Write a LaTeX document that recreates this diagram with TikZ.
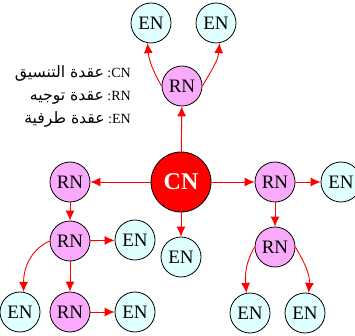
\documentclass[tikz,border=0pt]{standalone}
\usepackage{fontspec}
\setmainfont{Liberation Serif}
\newfontfamily\arabicfont[Script=Arabic,Scale=1.12]{DejaVu Sans}
\TeXXeTstate=1
\usetikzlibrary{arrows.meta}

\definecolor{encol}{RGB}{224,255,255}
\definecolor{rncol}{RGB}{250,170,250}
\definecolor{cncol}{RGB}{255,0,0}

\tikzset{
  netnode/.style={circle, draw=black, line width=0.8pt, inner sep=0pt,
                  minimum size=40pt, font=\fontsize{19}{19}\selectfont},
  ennode/.style={netnode, fill=encol},
  rnnode/.style={netnode, fill=rncol},
  cnnode/.style={netnode, fill=cncol, minimum size=60pt, text=white,
                 font=\fontsize{24}{24}\selectfont\bfseries},
  link/.style={draw=red, line width=0.9pt, -{Latex[length=10pt,width=9pt]}},
  legend/.style={anchor=base east, inner sep=0pt, font=\fontsize{14}{14}\selectfont}
}

\begin{document}
\begin{tikzpicture}[x=1pt,y=-1pt]
  \useasboundingbox (0,0) rectangle (355,336);
  \clip (0,0) rectangle (355,336);

  % coordinator
  \node[cnnode] (cn) at (181,182) {CN};

  % upper branch
  \node[rnnode] (rnT)  at (182,86) {RN};
  \node[ennode] (enTL) at (151,23) {EN};
  \node[ennode] (enTR) at (216,23) {EN};

  % left branch
  \node[rnnode] (rnL)  at (70,182)  {RN};
  \node[rnnode] (rnL2) at (70,241)  {RN};
  \node[ennode] (enL2) at (135,240) {EN};
  \node[rnnode] (rnL3) at (70,312)  {RN};
  \node[ennode] (enBL) at (20,312)  {EN};
  \node[ennode] (enL3) at (135,312) {EN};

  % lower end node
  \node[ennode] (enC) at (181,257) {EN};

  % right branch
  \node[rnnode] (rnR)  at (275,182) {RN};
  \node[ennode] (enR)  at (341,182) {EN};
  \node[rnnode] (rnR2) at (275,247) {RN};
  \node[ennode] (enRL) at (250,313) {EN};
  \node[ennode] (enRR) at (305,313) {EN};

  % legend
  \node[legend] (lg1) at (131,78)  {{\arabicfont\beginR عقدة التنسيق\endR}\ :CN};
  \node[legend] (lg2) at (131,101) {{\arabicfont\beginR عقدة توجيه\endR}\ :RN};
  \node[legend] (lg3) at (131,124) {{\arabicfont\beginR عقدة طرفية\endR}\ :EN};

  % links from the coordinator
  \draw[link] (cn) -- (rnT);
  \draw[link] (cn) -- (rnL);
  \draw[link] (cn) -- (rnR);
  \draw[link] (cn) -- (enC);

  % upper branch links
  \draw[link] (rnT.west) to[out=120,in=-85] (enTL.-100);
  \draw[link] (rnT.east) to[out=60,in=-95] (enTR.-80);

  % left branch links
  \draw[link] (rnL) -- (rnL2);
  \draw[link] (rnL2) -- (enL2);
  \draw[link] (rnL2) -- (rnL3);
  \draw[link] (rnL2.west) to[out=205,in=90] (enBL.80);
  \draw[link] (rnL3) -- (enL3);

  % right branch links
  \draw[link] (rnR) -- (enR);
  \draw[link] (rnR) -- (rnR2);
  \draw[link] (rnR2.west) to[out=-120,in=95] (enRL.100);
  \draw[link] (rnR2.east) to[out=-60,in=85] (enRR.80);
\end{tikzpicture}
\end{document}
